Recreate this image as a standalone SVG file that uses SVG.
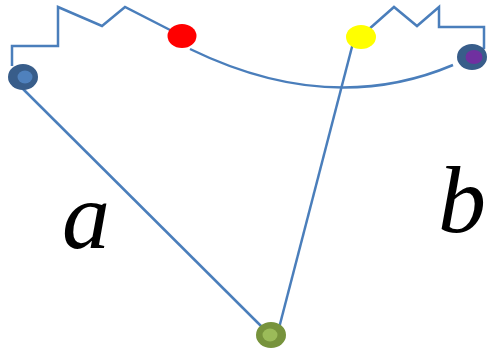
<svg xmlns="http://www.w3.org/2000/svg" width="488" height="354" viewBox="0 0 488 354">
  <style>
    .wire { fill: none; stroke: #4a7ebb; stroke-width: 2.5; stroke-linejoin: miter; }
    .lbl { font-family: "Liberation Serif", "Times New Roman", serif; font-style: italic; font-size: 96px; fill: #000; }
  </style>
  <rect width="488" height="354" fill="#fff"/>
  <g id="connectors">
    <!-- resistor zigzag on the left -->
    <polyline class="wire" points="12,66 12,46 58,46 58,7 102,26 125,7 174,32"/>
    <!-- resistor zigzag on the right -->
    <polyline class="wire" points="368,30 394,7 417,26 439,7 439,27 484,27 484,48 481,50"/>
    <!-- arc between red and purple -->
    <path class="wire" d="M190,49 Q330,117 453,65"/>
    <!-- legs to the bottom node -->
    <line class="wire" x1="17" y1="83" x2="263" y2="328"/>
    <line class="wire" x1="353" y1="43" x2="279" y2="328"/>
  </g>
  <g id="node-blue">
    <ellipse cx="23" cy="77" rx="15" ry="13" fill="#385d8a"/>
    <ellipse cx="25" cy="77" rx="7.5" ry="6.5" fill="#4f81bd"/>
  </g>
  <g id="node-red">
    <ellipse cx="182" cy="36" rx="14.5" ry="12" fill="#ff0000"/>
  </g>
  <g id="node-yellow">
    <ellipse cx="361" cy="37" rx="15" ry="12" fill="#ffff00"/>
  </g>
  <g id="node-purple">
    <ellipse cx="472" cy="57" rx="15" ry="13" fill="#385d8a"/>
    <ellipse cx="474" cy="57" rx="8.5" ry="7" fill="#7030a0"/>
  </g>
  <g id="node-green">
    <ellipse cx="271" cy="335" rx="15" ry="13" fill="#77933c"/>
    <ellipse cx="270" cy="335" rx="7.5" ry="6.5" fill="#9bbb59"/>
  </g>
  <g id="labels">
    <text class="lbl" x="62" y="248">a</text>
    <text class="lbl" x="438" y="232">b</text>
  </g>
</svg>
